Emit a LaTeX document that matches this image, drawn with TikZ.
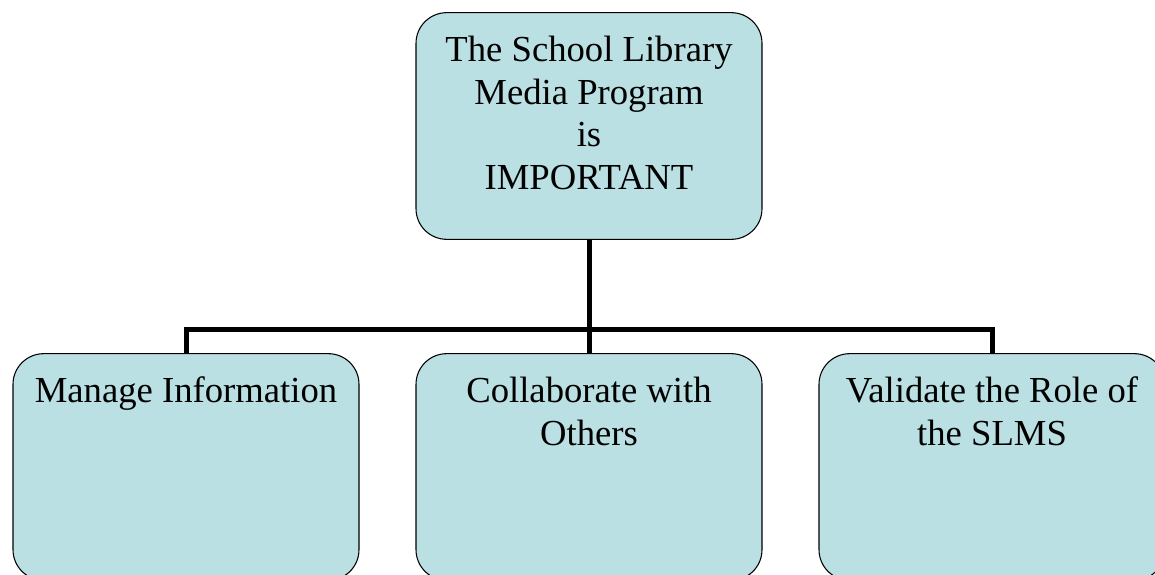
\documentclass[tikz,border=0pt]{standalone}
\usepackage{fontspec}
\setmainfont{Liberation Serif}
\usepackage{tikz}
\usepackage{xcolor}
\usetikzlibrary{calc}
\definecolor{slmsblue}{RGB}{187,224,227}
\tikzset{every picture/.style={line join=miter}}
\tikzstyle{topic_box} =
  [ rectangle
  , rounded corners=23pt
  , draw=black
  , line width=0.8pt
  , fill=slmsblue
  , minimum width=259.5pt
  , inner xsep=4pt
  , inner ysep=17.5pt
  , font=\fontsize{27.5}{32}\selectfont
  ]
\tikzstyle{bus_line} =
  [ line width=3.75pt
  ]
\def\TopicText#1{\parbox[t][135pt][t]{250pt}{\centering #1}}
\def\ProgramImportant{The School Library\\Media Program\\is\\IMPORTANT}
\def\ManageInfo{Manage Information}
\def\Collaborate{Collaborate with\\Others}
\def\ValidateRole{Validate the Role of\\the SLMS}

\begin{document}
\begin{tikzpicture}[x=0.75pt,y=0.75pt]
    \useasboundingbox (0,0) rectangle (1155,-574);
    \node[topic_box] (program)     at (589, -126) {\TopicText{\ProgramImportant}};
    \node[topic_box] (manage_info) at (186, -467) {\TopicText{\ManageInfo}};
    \node[topic_box] (collaborate) at (589, -467) {\TopicText{\Collaborate}};
    \node[topic_box] (validate)    at (992, -467) {\TopicText{\ValidateRole}};

    \coordinate (bus) at (589, -329);
    \draw[bus_line] (program.south) -- (collaborate.north);
    \draw[bus_line] (manage_info.north) |- (bus) -| (validate.north);
  \end{tikzpicture}
\end{document}
